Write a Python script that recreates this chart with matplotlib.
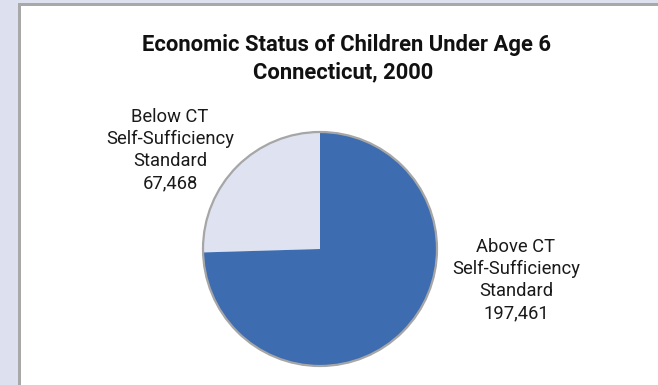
import matplotlib
matplotlib.use("Agg")
import matplotlib.pyplot as plt
from matplotlib.patches import Rectangle, Circle

# Data
categories = ["Below CT\nSelf-Sufficiency\nStandard", "Above CT\nSelf-Sufficiency\nStandard"]
values = [67468, 197461]
colors = ["#dfe3f1", "#3d6db0"]
title_lines = ["Economic Status of Children Under Age 6", "Connecticut, 2000"]

W, H = 658, 385
fig = plt.figure(figsize=(W / 100, H / 100), dpi=100)

# Frame: lavender margin, gray border, white panel
fig.patches.append(Rectangle((0, 0), 1, 1, transform=fig.transFigure,
                             facecolor="#dde1ef", edgecolor="none", zorder=-3))
fig.patches.append(Rectangle((18 / W, 0), 1, 1 - 3 / H, transform=fig.transFigure,
                             facecolor="#a8a8a8", edgecolor="none", zorder=-2))
fig.patches.append(Rectangle((21 / W, 0), 1, 1 - 6 / H, transform=fig.transFigure,
                             facecolor="white", edgecolor="none", zorder=-1))

ax = fig.add_axes([0, 0, 1, 1])
ax.patch.set_visible(False)

cx, cy, r = 320, H - 249, 117
ax.pie(values, colors=colors, startangle=90, counterclock=True,
       center=(cx, cy), radius=r, wedgeprops=dict(linewidth=0))
ax.add_patch(Circle((cx, cy), r, facecolor="none", edgecolor="#a6a6a6", linewidth=1.6))
ax.set_xlim(0, W)
ax.set_ylim(0, H)
ax.set_aspect("equal")
ax.axis("off")

font = "Roboto"
for i, line in enumerate(title_lines):
    ax.text(346 if i == 0 else 343, H - (45.5 + 27 * i), line, ha="center", va="center",
            fontsize=15.8, fontweight="bold", family=font, color="#111111")

label_pos = [(170, 117), (516, 247)]
for cat, val, (lx, ly) in zip(categories, values, label_pos):
    lines = cat.split("\n") + [f"{val:,}"]
    for j, line in enumerate(lines):
        ax.text(lx, H - (ly + 22 * j), line, ha="center", va="center",
                fontsize=13.2, family=font, color="#1a1a1a")

fig.savefig("out.png", dpi=100)
